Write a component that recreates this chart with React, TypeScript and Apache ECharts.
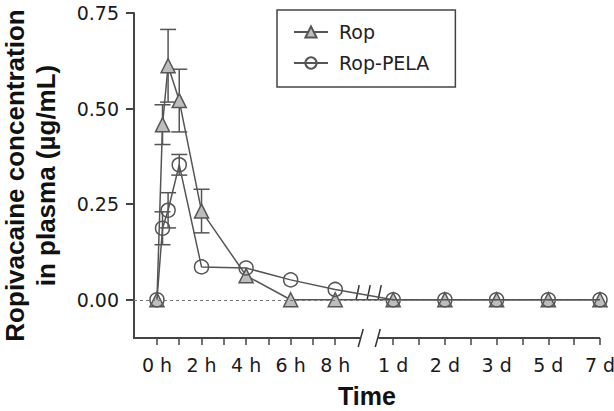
import React, { useEffect, useRef } from "react";
import * as echarts from "echarts";

// ---- data ----
const hourTimes = [0, 0.25, 0.5, 1, 2, 4, 6, 8];
const hourTickValues = [0, 2, 4, 6, 8];
const hourTickLabels = ["0 h", "2 h", "4 h", "6 h", "8 h"];
const dayLabels = ["1 d", "2 d", "3 d", "5 d", "7 d"];
const yTicks = [0, 0.25, 0.5, 0.75];

const ropHours = [0, 0.458, 0.612, 0.521, 0.232, 0.063, 0, 0];
const ropDays = [0, 0, 0, 0, 0];
const ropSD = [0, 0.052, 0.095, 0.082, 0.057, 0, 0, 0];

const pelaHours = [0, 0.187, 0.234, 0.353, 0.086, 0.083, 0.052, 0.027];
const pelaDays = [0, 0, 0, 0, 0];
const pelaSD = [0, 0.043, 0.046, 0.027, 0, 0, 0, 0];

// ---- broken time-axis layout ----
const DAY_START = 10.6;
const DAY_STEP = 2.32;
const X_MIN = -1.03;
const X_MAX = DAY_START + DAY_STEP * (dayLabels.length - 1);
const BREAK_START = 9.12;
const BREAK_END = 9.93;
const Y_MIN = -0.1;
const Y_MAX = 0.75;

const dayPos = (i: number) => DAY_START + i * DAY_STEP;

const buildPoints = (hours: number[], days: number[]) =>
  hourTimes
    .map((t, i) => [t, hours[i]])
    .concat(days.map((v, i) => [dayPos(i), v]));

const buildErr = (hours: number[], sd: number[]) =>
  hourTimes
    .map((t, i) => (sd[i] > 0 ? [t, hours[i] - sd[i], hours[i] + sd[i]] : null))
    .filter((d) => d !== null) as number[][];

const labelMap: Record<string, string> = {};
hourTickValues.forEach((v, i) => (labelMap[v.toFixed(3)] = hourTickLabels[i]));
dayLabels.forEach((l, i) => (labelMap[dayPos(i).toFixed(3)] = l));

const xTickValues: number[] = [];
for (let h = 0; h <= 8; h++) xTickValues.push(h);
dayLabels.forEach((_, i) => {
  xTickValues.push(dayPos(i));
  if (i < dayLabels.length - 1) xTickValues.push(dayPos(i) + DAY_STEP / 2);
});
const xLabelValues = hourTickValues.concat(dayLabels.map((_, i) => dayPos(i)));

const LINE = "#555";
const AXIS = "#444";

const errRender = (params: any, api: any) => {
  const x = api.value(0);
  const lo = api.coord([x, api.value(1)]);
  const hi = api.coord([x, api.value(2)]);
  const w = 8;
  const style = { stroke: LINE, lineWidth: 1.5 };
  return {
    type: "group",
    children: [
      { type: "line", shape: { x1: lo[0], y1: lo[1], x2: hi[0], y2: hi[1] }, style },
      { type: "line", shape: { x1: lo[0] - w, y1: lo[1], x2: lo[0] + w, y2: lo[1] }, style },
      { type: "line", shape: { x1: hi[0] - w, y1: hi[1], x2: hi[0] + w, y2: hi[1] }, style },
    ],
  };
};

const axisRender = (params: any, api: any) => {
  const a = api.coord([X_MIN, Y_MIN]);
  const bs = api.coord([BREAK_START, Y_MIN]);
  const be = api.coord([BREAK_END, Y_MIN]);
  const z = api.coord([X_MAX, Y_MIN]);
  const style = { stroke: AXIS, lineWidth: 2 };
  const thin = { stroke: "#333", lineWidth: 1.5 };
  const y0 = api.coord([BREAK_START, 0.02])[1];
  const bm = (bs[0] + be[0]) / 2;
  return {
    type: "group",
    children: [
      { type: "line", shape: { x1: a[0] - 1, y1: a[1], x2: bs[0], y2: bs[1] }, style },
      { type: "line", shape: { x1: bs[0] - 2, y1: bs[1] + 9, x2: bs[0] + 3, y2: bs[1] - 9 }, style: thin },
      { type: "line", shape: { x1: be[0] - 3, y1: be[1] + 9, x2: be[0] + 2, y2: be[1] - 9 }, style: thin },
      { type: "line", shape: { x1: be[0], y1: be[1], x2: z[0], y2: z[1] }, style },
      { type: "line", shape: { x1: bs[0] - 4, y1: y0 + 7, x2: bs[0] - 1, y2: y0 - 7 }, style: thin },
      { type: "line", shape: { x1: bm - 2, y1: y0 + 7, x2: bm + 1, y2: y0 - 7 }, style: thin },
      { type: "line", shape: { x1: be[0], y1: y0 + 7, x2: be[0] + 3, y2: y0 - 7 }, style: thin },
    ],
  };
};

export default function App() {
  const ref = useRef<HTMLDivElement>(null);
  useEffect(() => {
    if (!ref.current) return;
    const chart = echarts.init(ref.current, null, { renderer: "svg" });
    chart.setOption({
      animation: false,
      backgroundColor: "#fff",
      grid: {
        left: 134,
        right: 14,
        top: 13,
        bottom: 73,
        containLabel: false,
        outerBoundsMode: "none",
      },
      legend: {
        data: ["Rop", "Rop-PELA"],
        orient: "vertical",
        left: 277,
        top: 10,
        padding: [12, 26, 14, 16],
        itemGap: 11,
        itemWidth: 34,
        itemHeight: 14,
        borderColor: AXIS,
        borderWidth: 1.5,
        textStyle: {
          fontFamily: "DejaVu Sans",
          fontSize: 19,
          color: "#222",
          lineHeight: 20,
          padding: [0, 0, 0, 6],
        },
      },
      xAxis: {
        type: "value",
        min: X_MIN,
        max: X_MAX,
        name: "Time",
        nameLocation: "middle",
        nameGap: 45,
        nameTextStyle: {
          fontFamily: "Liberation Sans",
          fontWeight: "bold",
          fontSize: 25,
          lineHeight: 26,
          color: "#111",
        },
        axisLine: { show: false, onZero: false },
        splitLine: { show: false },
        axisTick: {
          show: true,
          customValues: xTickValues,
          length: 7,
          lineStyle: { color: AXIS, width: 1.5 },
        },
        axisLabel: {
          customValues: xLabelValues,
          margin: 17,
          fontFamily: "DejaVu Sans",
          fontSize: 19,
          color: "#1a1a1a",
          formatter: (v: number) => labelMap[v.toFixed(3)] ?? "",
        },
      },
      yAxis: {
        type: "value",
        min: Y_MIN,
        max: Y_MAX,
        name: "Ropivacaine concentration\nin plasma (µg/mL)",
        nameLocation: "middle",
        nameRotate: 90,
        nameGap: 73,
        nameTextStyle: {
          fontFamily: "Liberation Sans",
          fontWeight: "bold",
          fontSize: 26,
          lineHeight: 31,
          color: "#111",
        },
        axisLine: { show: true, onZero: false, lineStyle: { color: AXIS, width: 2 } },
        splitLine: { show: false },
        axisTick: {
          show: true,
          customValues: yTicks,
          length: 8,
          lineStyle: { color: AXIS, width: 2 },
        },
        axisLabel: {
          customValues: yTicks,
          margin: 15,
          fontFamily: "DejaVu Sans",
          fontSize: 19,
          color: "#1a1a1a",
          formatter: (v: number) => v.toFixed(2),
        },
      },
      series: [
        {
          name: "axisDecor",
          type: "custom",
          data: [[0, 0]],
          clip: false,
          silent: true,
          renderItem: axisRender,
          z: 1,
          markLine: {
            silent: true,
            symbol: "none",
            label: { show: false },
            lineStyle: { type: [3, 3], color: "#777", width: 1 },
            data: [{ yAxis: 0 }],
          },
        },
        {
          name: "Rop SD",
          type: "custom",
          data: buildErr(ropHours, ropSD),
          encode: { x: 0, y: [1, 2] },
          renderItem: errRender,
          z: 2,
        },
        {
          name: "Rop-PELA SD",
          type: "custom",
          data: buildErr(pelaHours, pelaSD),
          encode: { x: 0, y: [1, 2] },
          renderItem: errRender,
          z: 2,
        },
        {
          name: "Rop",
          type: "line",
          data: buildPoints(ropHours, ropDays),
          symbol: "triangle",
          symbolSize: 14,
          lineStyle: { color: LINE, width: 1.5 },
          itemStyle: { color: "#bdbdbd", borderColor: LINE, borderWidth: 1.5 },
          z: 3,
        },
        {
          name: "Rop-PELA",
          type: "line",
          data: buildPoints(pelaHours, pelaDays),
          symbol: "circle",
          symbolSize: 14,
          lineStyle: { color: LINE, width: 1.5 },
          itemStyle: { color: "rgba(255,255,255,0)", borderColor: LINE, borderWidth: 1.5 },
          z: 4,
        },
      ],
    });
    return () => chart.dispose();
  }, []);
  return (
    <div
      ref={ref}
      style={{ position: "absolute", left: 0, top: 0, width: 614, height: 411 }}
    />
  );
}
